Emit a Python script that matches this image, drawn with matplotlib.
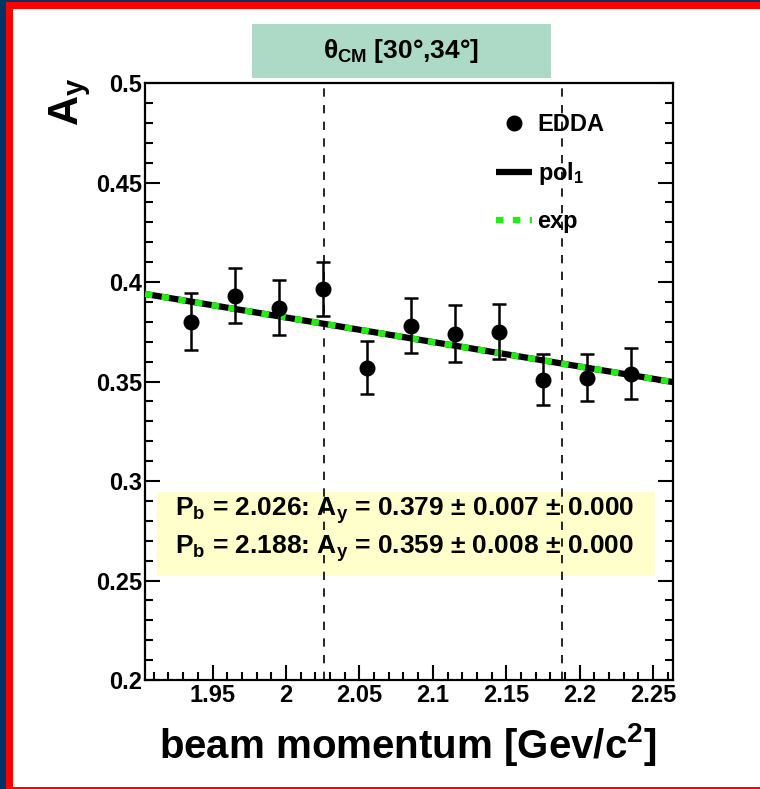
import matplotlib.pyplot as plt
from matplotlib.patches import Rectangle
from matplotlib.lines import Line2D
from matplotlib.ticker import MultipleLocator, FixedLocator

plt.rcParams['font.family'] = ['Liberation Sans', 'DejaVu Sans']
plt.rcParams['font.weight'] = 'bold'
plt.rcParams['mathtext.fontset'] = 'custom'
plt.rcParams['mathtext.rm'] = 'Liberation Sans:bold'
plt.rcParams['mathtext.it'] = 'Liberation Sans:bold'
plt.rcParams['mathtext.bf'] = 'Liberation Sans:bold'

# EDDA points
p_beam = [1.935, 1.965, 1.995, 2.025, 2.055, 2.085, 2.115, 2.145, 2.175, 2.205, 2.235]
a_y = [0.380, 0.393, 0.387, 0.3965, 0.357, 0.378, 0.374, 0.375, 0.351, 0.352, 0.354]
a_y_err = [0.0143, 0.0138, 0.0138, 0.0135, 0.0133, 0.0138, 0.0143, 0.0138, 0.013, 0.012, 0.0126]

# fit curves (read at axis ends)
fit_p = [1.904, 2.2635]
pol1_ay = [0.394, 0.3497]
exp_ay = [0.394, 0.3497]

# momenta of interest and results
p_marks = [2.026, 2.188]
result_lines = [r'P$_b$ = 2.026: A$_y$ = 0.379 $\pm$ 0.007 $\pm$ 0.000',
                r'P$_b$ = 2.188: A$_y$ = 0.359 $\pm$ 0.008 $\pm$ 0.000']
title = r'$\theta_{CM}$ [30°,34°]'

fig = plt.figure(figsize=(7.6, 7.89), dpi=100)
ax = fig.add_axes([145 / 760, 1 - 680 / 789, 528 / 760, 597 / 789])

green = '#22ee11'

# fits
ax.plot(fit_p, pol1_ay, color='black', lw=4.5, solid_capstyle='butt', zorder=3)
ax.plot(fit_p, exp_ay, color=green, lw=4.5, linestyle=(0, (1.2, 1.5)),
        dash_capstyle='butt', zorder=4)

# data
ax.errorbar(p_beam, a_y, yerr=a_y_err, fmt='o', color='black', ms=10.5, elinewidth=1.8,
            capsize=5, capthick=1.8, zorder=5)

for pm in p_marks:
    ax.axvline(pm, color='black', lw=1.2, linestyle=(0, (5, 5)), zorder=2)

ax.set_xlim(1.904, 2.2635)
ax.set_ylim(0.2, 0.5)
ax.xaxis.set_major_locator(FixedLocator([1.95, 2.0, 2.05, 2.1, 2.15, 2.2, 2.25]))
ax.xaxis.set_minor_locator(MultipleLocator(0.01))
ax.set_xticklabels(['1.95', '2', '2.05', '2.1', '2.15', '2.2', '2.25'])
ax.yaxis.set_minor_locator(MultipleLocator(0.01))
ax.set_yticks([0.2, 0.25, 0.3, 0.35, 0.4, 0.45, 0.5])
ax.set_yticklabels(['0.2', '0.25', '0.3', '0.35', '0.4', '0.45', '0.5'])
ax.tick_params(which='both', direction='in', top=False, right=True, width=1.5,
               labelsize=17)
ax.tick_params(which='major', length=11)
ax.tick_params(which='minor', length=6)
ax.tick_params(axis='x', pad=3)
ax.tick_params(axis='y', pad=2)
for s in ax.spines.values():
    s.set_linewidth(1.6)

ax.set_xlabel('beam momentum [Gev/c$^2$]', fontsize=29, fontweight='bold', ha='right',
              x=0.97, labelpad=10)
ax.set_ylabel('A$_y$', fontsize=30, fontweight='bold', ha='right', y=1.01, labelpad=2)

handles = [Line2D([], [], marker='o', color='black', ms=10.5, linestyle='none'),
           Line2D([], [], color='black', lw=4.5, solid_capstyle='butt'),
           Line2D([], [], color=green, lw=4.5, linestyle=(0, (1.2, 1.5)),
                  dash_capstyle='butt')]
ax.legend(handles=handles, labels=['EDDA', 'pol$_1$', 'exp'],
          loc='upper left', bbox_to_anchor=(0.625, 0.985), frameon=False,
          fontsize=17, handlelength=1.5, labelspacing=1.0, handletextpad=0.25)

# yellow results box
ax.add_patch(Rectangle((157 / 760, 1 - 576 / 789), 498 / 760, 84 / 789,
                       transform=fig.transFigure, facecolor='#ffffcc', edgecolor='none',
                       zorder=1))
for i, line in enumerate(result_lines):
    fig.text(175 / 760, 1 - (511 + 38 * i) / 789, line, fontsize=19, fontweight='bold',
             ha='left', va='center')

# title box
fig.patches.append(Rectangle((252 / 760, 1 - 78 / 789), 299 / 760, 54 / 789,
                             transform=fig.transFigure, facecolor='#acdac6',
                             edgecolor='none'))
fig.text(401 / 760, 1 - 51 / 789, title, fontsize=19, ha='center', va='center')

# page frame
fig.patches.append(Rectangle((0, 0), 6 / 760, 1, transform=fig.transFigure,
                             facecolor='#003366', edgecolor='none'))
fig.patches.append(Rectangle((6 / 760, 0), 7 / 760, 1 - 2 / 789, transform=fig.transFigure,
                             facecolor='red', edgecolor='none'))
fig.patches.append(Rectangle((0, 1 - 2 / 789), 1, 2 / 789, transform=fig.transFigure,
                             facecolor='#003366', edgecolor='none'))
fig.patches.append(Rectangle((6 / 760, 1 - 9 / 789), 1, 7 / 789, transform=fig.transFigure,
                             facecolor='red', edgecolor='none'))
fig.patches.append(Rectangle((6 / 760, 0), 1, 2 / 789, transform=fig.transFigure,
                             facecolor='red', edgecolor='none'))

fig.savefig('out.png', dpi=100)
